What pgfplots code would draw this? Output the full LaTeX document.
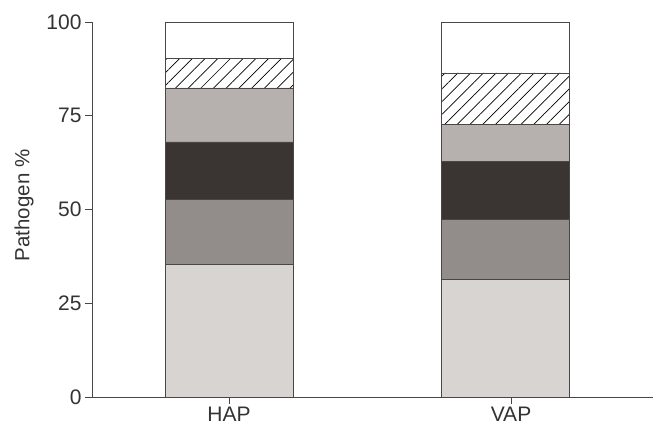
\documentclass[border=0pt]{standalone}
\usepackage{pgfplots}
\pgfplotsset{compat=1.18}
\usepackage{fontspec}
\setmainfont{Liberation Sans}
\usetikzlibrary{patterns.meta,calc}
\definecolor{c1}{HTML}{D8D4D2}
\definecolor{c2}{HTML}{928D8A}
\definecolor{c3}{HTML}{3A3532}
\definecolor{c4}{HTML}{B6B1AF}
\definecolor{edge}{HTML}{4A4646}
\begin{document}
\begin{tikzpicture}
\begin{axis}[
  name=ax,
  scale only axis,
  width=561pt, height=375pt,
  ybar stacked,
  bar width=128pt,
  xmin=-0.4955, xmax=1.5335,
  ymin=0, ymax=100,
  axis lines=left,
  axis line style={-, edge, line width=0.9pt},
  xtick={0,1.02}, xticklabels={HAP,VAP},
  ytick={0,25,50,75,100},
  tick align=outside,
  major tick length=7pt,
  tick style={edge, line width=0.9pt},
  ylabel={Pathogen \%},
  ylabel style={yshift=6pt, xshift=4pt},
  font=\fontsize{21}{24}\selectfont,
  tick label style={font=\fontsize{21}{24}\selectfont, text=black!80},
  label style={font=\fontsize{20.5}{24}\selectfont, text=black!80},
  /pgf/number format/assume math mode=true,
  every axis plot/.append style={draw=edge, line width=0.8pt},
  clip=false,
]
\addplot[fill=c1] coordinates {(0,35.4) (1,31.3)};
\addplot[fill=c2] coordinates {(0,17.4) (1,16.1)};
\addplot[fill=c3] coordinates {(0,15.2) (1,15.5)};
\addplot[fill=c4] coordinates {(0,14.4) (1,9.7)};
\addplot[fill=white, postaction={pattern={Lines[angle=45,distance=9pt,line width=0.7pt]}}] coordinates {(0,7.9) (1,13.8)};
\addplot[fill=white] coordinates {(0,9.7) (1,13.6)};
\end{axis}
\pgfresetboundingbox
\path ($(ax.south west)+(-92pt,-32pt)$) rectangle ($(ax.north east)+(0pt,22pt)$);
\end{tikzpicture}
\end{document}
